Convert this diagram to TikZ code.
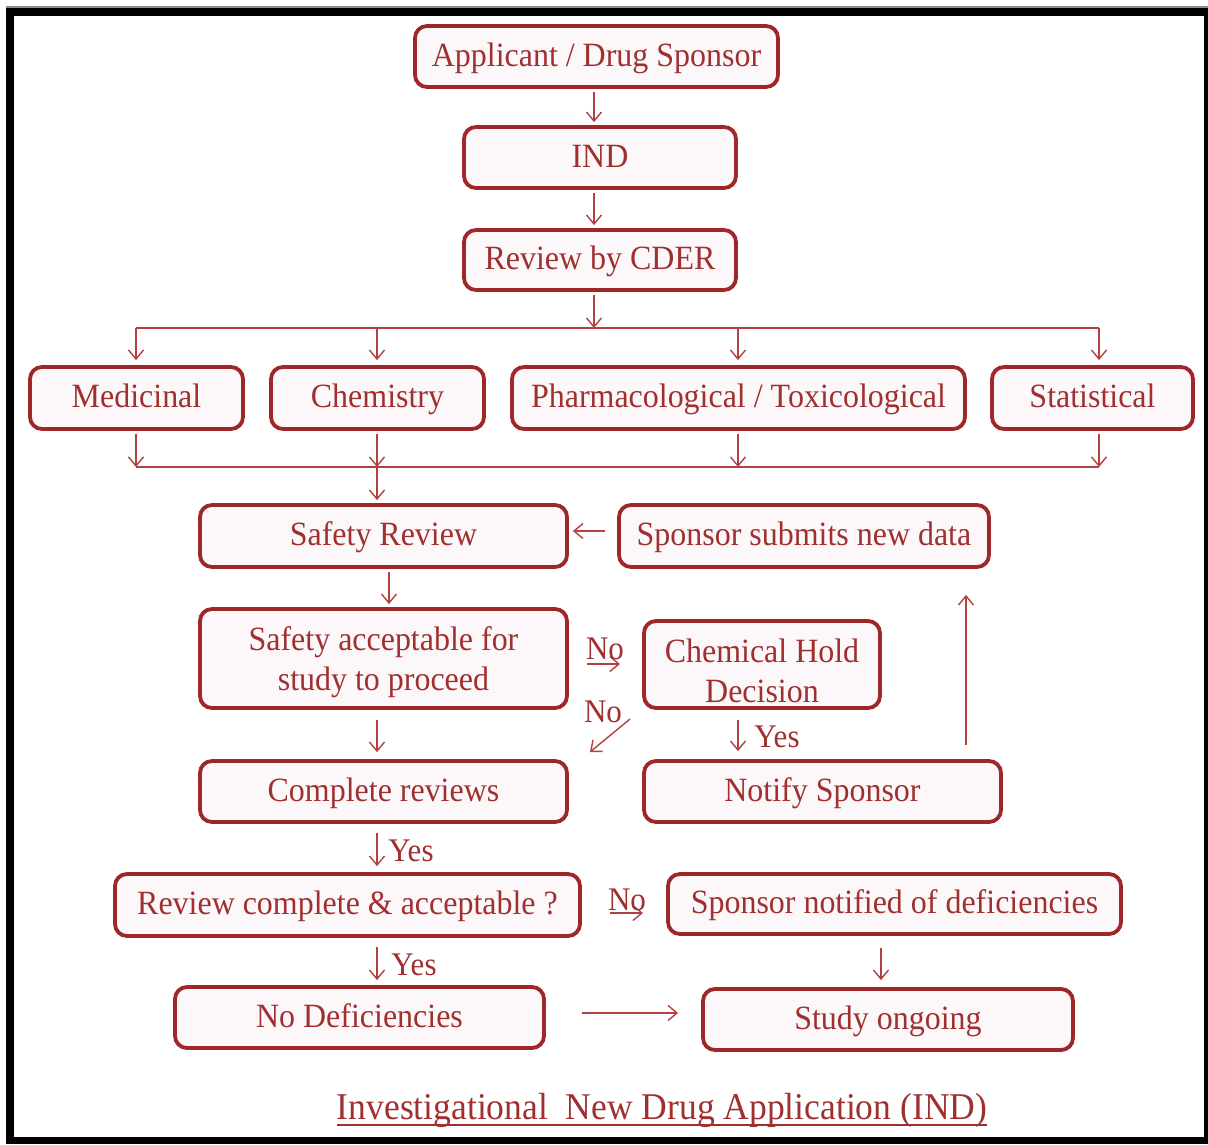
\documentclass[tikz,border=0pt]{standalone}
\usepackage{fontspec}
\setmainfont{Liberation Serif}[FakeStretch=0.94]
\usetikzlibrary{arrows.meta}

\definecolor{boxred}{RGB}{158,40,40}
\definecolor{txtred}{RGB}{160,48,48}
\definecolor{arrred}{RGB}{178,66,66}
\definecolor{boxfill}{RGB}{252,247,249}

\tikzset{
  box/.style={draw=boxred, line width=3.8pt, rounded corners=12pt, fill=boxfill,
    text=txtred, inner sep=0pt,
    font=\fontsize{34pt}{40pt}\selectfont, text height=25pt, text depth=6pt},
  arr/.style={draw=arrred, line width=1.4pt, -{Straight Barb[length=9pt,width=15pt,line width=1.4pt]}},
  plain/.style={draw=arrred, line width=1.4pt},
  gap/.style={shorten <=3pt, shorten >=3pt},
  lbl/.style={text=txtred, inner sep=0pt, font=\fontsize{33pt}{38pt}\selectfont}
}
% two centred lines, baseline on the first one
\newcommand{\twolines}[2]{\begin{tabular}[t]{@{}c@{}}#1\\#2\end{tabular}}

\begin{document}
\begin{tikzpicture}[x=1pt, y=-1pt]
  % page and black frame
  \useasboundingbox (0,0) rectangle (1208,1144);
  \fill[white] (0,0) rectangle (1208,1144);
  \fill[black!45] (6,6) rectangle (1208,8);
  \fill[black] (6,8) rectangle (1208,1144);
  \fill[white] (14,16) rectangle (1204,1137);

  % boxes
  \node[box, minimum width=363pt, minimum height=61pt] (app)  at (596.5,56.5) {Applicant / Drug Sponsor};
  \node[box, minimum width=272pt, minimum height=61pt] (ind)  at (600,157.5) {IND};
  \node[box, minimum width=272pt, minimum height=60pt] (cder) at (600,260) {Review by CDER};

  \node[box, minimum width=213pt, minimum height=62pt] (med)   at (136.5,398) {Medicinal};
  \node[box, minimum width=213pt, minimum height=62pt] (chem)  at (377.5,398) {Chemistry};
  \node[box, minimum width=453pt, minimum height=62pt] (pharm) at (738.5,398) {Pharmacological / Toxicological};
  \node[box, minimum width=201pt, minimum height=62pt] (stat)  at (1092.5,398) {Statistical};

  \node[box, minimum width=367pt, minimum height=62pt] (saf) at (383.5,536) {Safety Review};
  \node[box, minimum width=370pt, minimum height=62pt] (spn) at (804,536) {Sponsor submits new data};

  \node[box, minimum width=367pt, minimum height=99pt, text height=28pt, text depth=44pt] (acc) at (383.5,658.5)
    {\twolines{Safety acceptable for}{study to proceed}};
  \node[box, minimum width=236pt, minimum height=87pt, text height=28pt, text depth=32pt] (chd) at (762,664.5)
    {\twolines{Chemical Hold}{Decision}};

  \node[box, minimum width=367pt, minimum height=61pt] (cmp) at (383.5,791.5) {Complete reviews};
  \node[box, minimum width=357pt, minimum height=61pt] (ntf) at (822.5,791.5) {Notify Sponsor};

  \node[box, minimum width=465pt, minimum height=62pt] (rca) at (347.5,905) {Review complete \& acceptable ?};
  \node[box, minimum width=453pt, minimum height=60pt] (snd) at (894.5,904) {Sponsor notified of deficiencies};

  \node[box, minimum width=369pt, minimum height=61pt] (nod) at (359.5,1017.5) {No Deficiencies};
  \node[box, minimum width=370pt, minimum height=61pt] (sto) at (888,1019.5) {Study ongoing};

  % top chain
  \draw[arr, gap] (app.south -| 594,0) -- (ind.north -| 594,0);
  \draw[arr, gap] (ind.south -| 594,0) -- (cder.north -| 594,0);

  % distribution bus to the four reviews
  \coordinate (bl1) at (136,328);
  \coordinate (br1) at (1099,328);
  \coordinate (bc1) at (594,328);
  \draw[plain] (bl1) -- (br1);
  \draw[arr, shorten <=3pt] (cder.south -| bc1) -- (bc1);
  \draw[arr, shorten >=5pt] (bl1) -- (bl1 |- med.north);
  \draw[arr, shorten >=5pt] (377,328) -- (chem.north -| 377,0);
  \draw[arr, shorten >=5pt] (738,328) -- (pharm.north -| 738,0);
  \draw[arr, shorten >=5pt] (br1) -- (br1 |- stat.north);

  % collection bus into safety review
  \coordinate (bl2) at (136,467);
  \coordinate (br2) at (1099,467);
  \coordinate (bc2) at (377,467);
  \draw[plain] (bl2) -- (br2);
  \draw[arr, shorten <=3pt] (bl2 |- med.south) -- (bl2);
  \draw[arr, shorten <=3pt] (bc2 |- chem.south) -- (bc2);
  \draw[arr, shorten <=3pt] (738,0 |- pharm.south) -- (738,467);
  \draw[arr, shorten <=3pt] (br2 |- stat.south) -- (br2);
  \draw[arr, shorten >=3pt] (bc2) -- (bc2 |- saf.north);

  % safety loop
  \draw[arr] ([xshift=-12pt]spn.west |- 0,531) -- ([xshift=4pt]saf.east |- 0,531);
  \draw[arr, gap] (saf.south -| 389,0) -- (acc.north -| 389,0);

  \coordinate (n1s) at (587,664);
  \coordinate (n1e) at (620,664);
  \draw[arr] (n1s) -- (n1e);
  \node[lbl] (no1) at (605,649) {No};

  \coordinate (n2s) at (630,719);
  \coordinate (n2e) at (590,752);
  \draw[arr] (n2s) -- (n2e);
  \node[lbl] (no2) at (603,712) {No};

  \coordinate (a1s) at (377,720);
  \draw[arr, shorten >=7pt] (a1s) -- (a1s |- cmp.north);

  \draw[arr, shorten <=10pt, shorten >=8pt] (chd.south -| 738,0) -- (ntf.north -| 738,0);
  \node[lbl] (yes1) at (777,737) {Yes};

  \draw[arr, shorten <=14pt, shorten >=26pt] (ntf.north -| 966,0) -- (spn.south -| 966,0);

  % final review stage
  \draw[arr, shorten <=9pt, shorten >=6pt] (cmp.south -| 377,0) -- (rca.north -| 377,0);
  \node[lbl] (yes2) at (411,851) {Yes};

  \coordinate (n3s) at (610,913);
  \coordinate (n3e) at (643,913);
  \draw[arr] (n3s) -- (n3e);
  \node[lbl] (no3) at (627,900) {No};

  \draw[arr, shorten <=9pt, shorten >=5pt] (rca.south -| 377,0) -- (nod.north -| 377,0);
  \node[lbl] (yes3) at (414,965) {Yes};

  \draw[arr, shorten <=12pt, shorten >=7pt] (snd.south -| 881,0) -- (sto.north -| 881,0);
  \draw[arr, shorten <=36pt, shorten >=23pt] (nod.east |- 0,1013) -- (sto.west |- 0,1013);

  % caption
  \node[text=txtred, inner sep=0pt, font=\fontsize{37.8pt}{44pt}\selectfont, anchor=base] (title) at (662,1119)
    {Investigational\ \ New Drug Application (IND)};
  \draw[txtred, line width=1.6pt] ([yshift=-6pt]title.base west) -- ([yshift=-6pt]title.base east);
\end{tikzpicture}
\end{document}
